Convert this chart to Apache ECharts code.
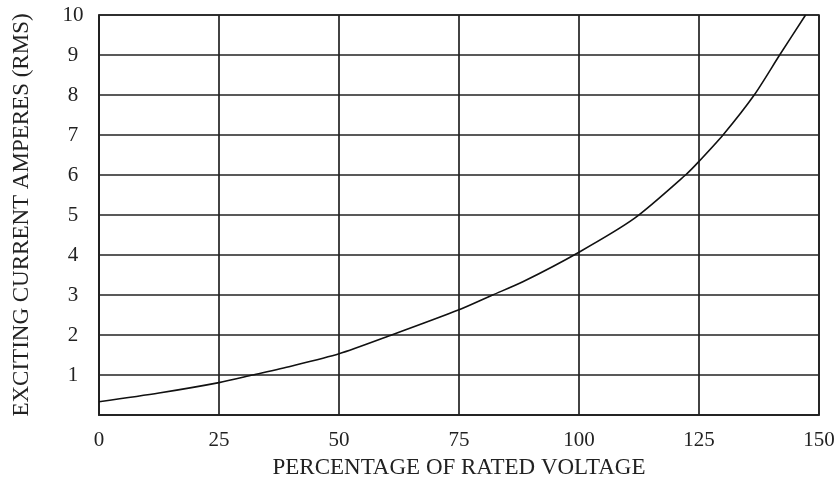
<!DOCTYPE html>
<html>
<head>
<meta charset="utf-8">
<script src="https://cdn.jsdelivr.net/npm/echarts@6/dist/echarts.min.js"></script>
<style>
  html, body { margin: 0; padding: 0; background: #fff; }
  #chart { width: 837px; height: 478px; }
</style>
</head>
<body>
<div id="chart"></div>
<script>
  // readings taken off the curve
  var voltage = [0, 12.5, 25, 32, 40, 50, 60.5, 75, 82, 88.3, 100, 111.6, 122.2, 125, 130, 136.5, 141.8, 147.2];
  var amperes = [0.33, 0.55, 0.81, 1.0, 1.22, 1.53, 1.98, 2.63, 3.0, 3.33, 4.07, 4.92, 6.0, 6.34, 7.0, 8.0, 9.0, 10.0];
  var xTitle = 'PERCENTAGE OF RATED VOLTAGE';
  var yTitle = 'EXCITING CURRENT AMPERES (RMS)';

  var font = '"Liberation Serif", "Times New Roman", serif';
  var gridColor = '#222';

  var points = [];
  for (var i = 0; i < voltage.length; i++) {
    points.push([voltage[i], amperes[i]]);
  }

  var myChart = echarts.init(document.getElementById('chart'), null, { renderer: 'canvas' });
  var option = {
    animation: false,
    backgroundColor: '#fff',
    grid: {
      left: 99, right: 18, top: 15, bottom: 63,
      outerBoundsMode: 'none',
      containLabel: false,
      show: true,
      borderColor: gridColor,
      borderWidth: 1.7
    },
    xAxis: {
      type: 'value',
      min: 0, max: 150, interval: 25,
      name: xTitle,
      nameLocation: 'middle',
      nameGap: 41,
      nameTextStyle: { fontFamily: font, fontSize: 23, color: '#222' },
      axisLine: { show: true, lineStyle: { color: gridColor, width: 1.7 } },
      axisTick: { show: false },
      axisLabel: { fontFamily: font, fontSize: 21, color: '#222', margin: 15 },
      splitLine: { show: true, lineStyle: { color: gridColor, width: 1.7 } }
    },
    yAxis: {
      type: 'value',
      min: 0, max: 10, interval: 1,
      name: yTitle,
      nameLocation: 'middle',
      nameGap: 66,
      nameTextStyle: { fontFamily: font, fontSize: 23, color: '#222' },
      axisLine: { show: true, lineStyle: { color: gridColor, width: 1.7 } },
      axisTick: { show: false },
      axisLabel: {
        fontFamily: font, fontSize: 21, color: '#222',
        align: 'center', margin: 26,
        showMinLabel: false,
        formatter: function (v) { return v === 0 ? '' : v; }
      },
      splitLine: { show: true, lineStyle: { color: gridColor, width: 1.7 } }
    },
    series: [{
      type: 'line',
      data: points,
      smooth: 0.25,
      showSymbol: false,
      lineStyle: { color: '#111', width: 1.6 }
    }]
  };
  myChart.setOption(option);
</script>
</body>
</html>
